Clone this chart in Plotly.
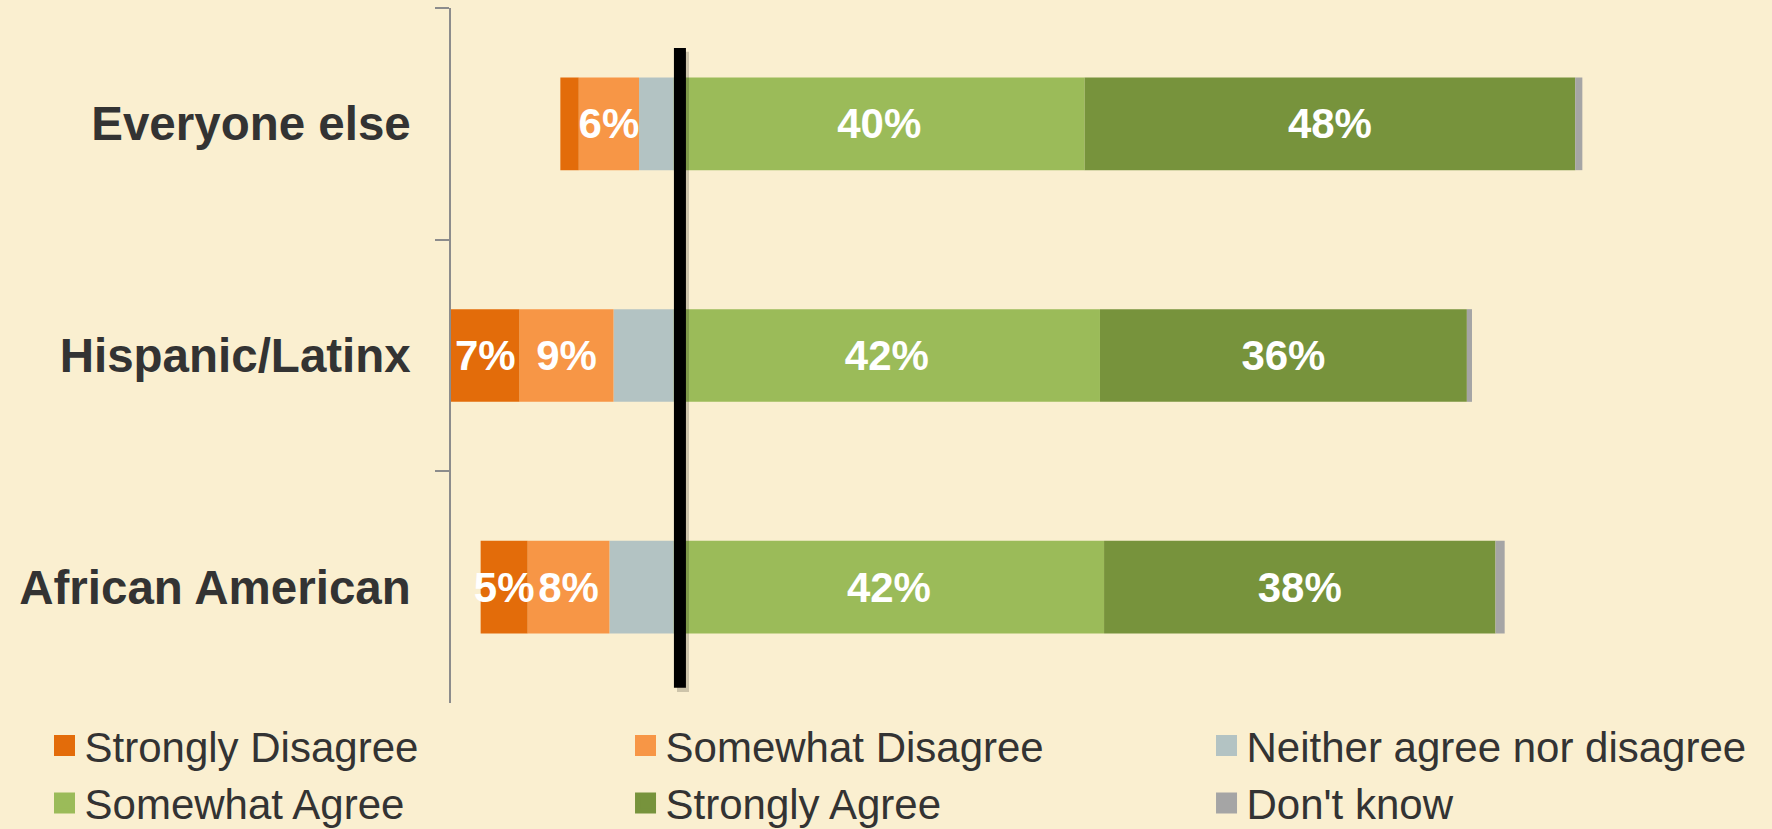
import plotly.graph_objects as go

# ---------------- data (percent of respondents) ----------------
categories = ["Everyone else", "Hispanic/Latinx", "African American"]

strongly_disagree = [1.8, 6.7, 4.6]
somewhat_disagree = [5.9, 9.2, 8.0]
neither = [3.4, 5.9, 6.3]
somewhat_agree = [40.2, 41.7, 42.1]
strongly_agree = [48.0, 35.9, 38.3]
dont_know = [0.7, 0.5, 0.9]

# labels as printed on the bars ("" = no label)
lbl_strongly_disagree = ["", "7%", "5%"]
lbl_somewhat_disagree = ["6%", "9%", "8%"]
lbl_neither = ["", "", ""]
lbl_somewhat_agree = ["40%", "42%", "42%"]
lbl_strongly_agree = ["48%", "36%", "38%"]
lbl_dont_know = ["", "", ""]

series_names = ["Strongly Disagree", "Somewhat Disagree", "Neither agree nor disagree",
                "Somewhat Agree", "Strongly Agree", "Don't know"]

# ---------------- style ----------------
BG = "#FAEFD0"
COLORS = {
    "Strongly Disagree": "#E36C0A",
    "Somewhat Disagree": "#F79646",
    "Neither agree nor disagree": "#B3C3C3",
    "Somewhat Agree": "#9BBB59",
    "Strongly Agree": "#77933C",
    "Don't know": "#A5A5A5",
}
FONT = "Liberation Sans, Arial, sans-serif"
TEXT_DARK = "#333333"
W, H = 1772, 829
M_L, M_R, M_T, M_B = 451, 0, 8, 126
PX_PER_PCT = 10.22
ZERO_LINE_X = 0.6

neg_values = {
    "Neither agree nor disagree": (neither, lbl_neither),
    "Somewhat Disagree": (somewhat_disagree, lbl_somewhat_disagree),
    "Strongly Disagree": (strongly_disagree, lbl_strongly_disagree),
}
pos_values = {
    "Somewhat Agree": (somewhat_agree, lbl_somewhat_agree),
    "Strongly Agree": (strongly_agree, lbl_strongly_agree),
    "Don't know": (dont_know, lbl_dont_know),
}

fig = go.Figure()

label_font = dict(family=FONT, size=42, color="white", weight="bold")

# negative side: stacked outward from zero (neither closest to zero)
for name, (vals, lbls) in neg_values.items():
    fig.add_trace(go.Bar(
        y=categories, x=[-v for v in vals], orientation="h",
        marker=dict(color=COLORS[name], line=dict(width=0)),
        text=lbls, textposition="inside", insidetextanchor="middle",
        textangle=0, constraintext="none", textfont=label_font,
        showlegend=False, hoverinfo="skip", name=name,
    ))

for name, (vals, lbls) in pos_values.items():
    fig.add_trace(go.Bar(
        y=categories, x=vals, orientation="h",
        marker=dict(color=COLORS[name], line=dict(width=0)),
        text=lbls, textposition="inside", insidetextanchor="middle",
        textangle=0, constraintext="none", textfont=label_font,
        showlegend=False, hoverinfo="skip", name=name,
    ))

# legend proxies (bigger squares than bar legend symbols)
for name in series_names:
    c = COLORS[name]
    fig.add_trace(go.Scatter(
        x=[None], y=[None], mode="markers", name=name,
        marker=dict(symbol="square", size=16, color=c, line=dict(width=5, color=c)),
        showlegend=True, hoverinfo="skip",
    ))

neg_total = max(a + b + c for a, b, c in zip(strongly_disagree, somewhat_disagree, neither))
plot_w = W - M_L - M_R
x_min = -neg_total
x_max = x_min + plot_w / PX_PER_PCT

# vertical reference line at zero (with a faint shadow)
fig.add_shape(type="line", xref="x", yref="paper",
              x0=ZERO_LINE_X + 0.3, x1=ZERO_LINE_X + 0.3, y0=0.016, y1=0.937,
              line=dict(color="rgba(0,0,0,0.18)", width=12), layer="above")
fig.add_shape(type="line", xref="x", yref="paper",
              x0=ZERO_LINE_X, x1=ZERO_LINE_X, y0=0.022, y1=0.9424,
              line=dict(color="black", width=12), layer="above")

fig.update_layout(
    width=W, height=H,
    barmode="relative", bargap=0.6,
    paper_bgcolor=BG, plot_bgcolor=BG,
    margin=dict(l=M_L, r=M_R, t=M_T, b=M_B, autoexpand=False),
    font=dict(family=FONT, color=TEXT_DARK),
    xaxis=dict(range=[x_min, x_max], showgrid=False, zeroline=False,
               showticklabels=False, showline=False, ticks="", fixedrange=True),
    yaxis=dict(categoryorder="array", categoryarray=categories, autorange="reversed",
               showgrid=False, zeroline=False,
               showline=True, linecolor="#8C8C8C", linewidth=1.5,
               ticks="outside", tickson="boundaries", ticklen=14, tickwidth=1.5,
               tickcolor="#8C8C8C", ticklabelstandoff=29,
               tickfont=dict(family=FONT, size=47.5, color=TEXT_DARK, weight="bold")),
    legend=dict(orientation="h", x=-0.3077, xanchor="left", y=-0.0125, yanchor="top",
                entrywidth=536, entrywidthmode="pixels",
                font=dict(family=FONT, size=42, color=TEXT_DARK),
                bgcolor="rgba(0,0,0,0)", borderwidth=0, traceorder="normal"),
    showlegend=True,
)

fig.write_html(
    "out.html",
    config={"displayModeBar": False},
    post_script="document.body.style.margin='0';document.body.style.background='" + BG + "';",
)
